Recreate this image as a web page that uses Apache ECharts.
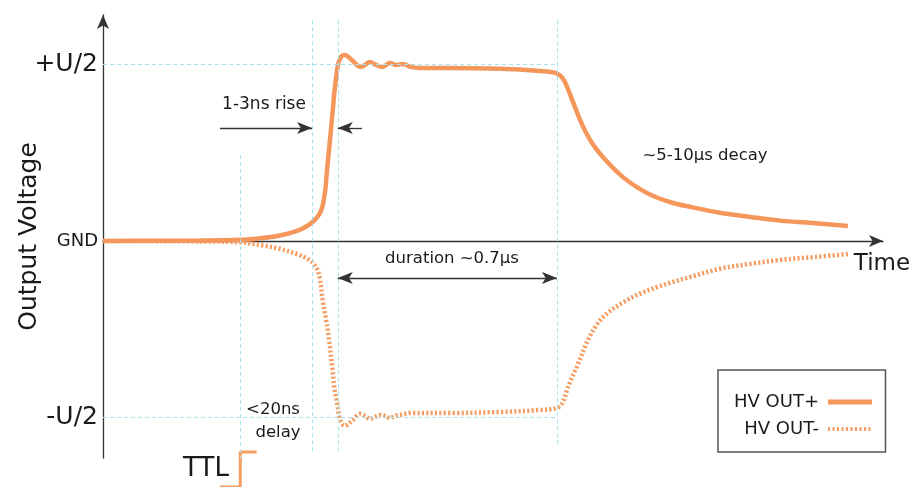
<!DOCTYPE html>
<html><head><meta charset="utf-8">
<script src="https://cdn.jsdelivr.net/npm/echarts@6/dist/echarts.min.js"></script>
<style>html,body{margin:0;padding:0;background:#fff}#c{width:917px;height:487px}</style>
</head><body><div id="c"></div>
<script>
// time in arbitrary (not-to-scale) units, voltage in units of U/2
const posT = [0, 12.4, 17.6, 20.5, 22.7, 24.9, 25.9, 26.8, 27.6, 28.1, 28.5, 28.7, 29.1, 29.4, 29.7, 30.1, 30.5, 31.0, 31.9, 33.0, 33.6, 34.2, 35.0, 35.8, 36.8, 37.6, 38.5, 39.4, 40.6, 44.5, 50.9, 56.0, 58.0, 58.9, 59.5, 60.3, 61.5, 62.8, 64.6, 66.7, 68.9, 71.0, 73.1, 75.3, 79.1, 83.0, 86.8, 91.3, 95.5];
const posV = [0, 0.002, 0.006, 0.017, 0.031, 0.057, 0.077, 0.104, 0.142, 0.190, 0.289, 0.391, 0.572, 0.714, 0.856, 0.992, 1.042, 1.054, 1.025, 0.986, 0.997, 1.014, 0.997, 0.986, 1.008, 0.997, 1.003, 0.986, 0.980, 0.980, 0.975, 0.963, 0.952, 0.924, 0.873, 0.782, 0.652, 0.548, 0.450, 0.360, 0.292, 0.246, 0.215, 0.193, 0.160, 0.136, 0.115, 0.100, 0.085];
const negT = [0, 12.4, 17.6, 20.5, 22.7, 24.9, 25.9, 26.8, 27.4, 27.8, 28.2, 28.6, 28.9, 29.4, 29.7, 30.0, 30.4, 31.0, 31.9, 33.0, 33.6, 34.2, 34.9, 35.5, 36.2, 36.8, 37.4, 38.1, 39.4, 44.5, 50.9, 56.0, 58.2, 58.9, 59.5, 60.1, 60.8, 62.1, 63.3, 64.6, 66.7, 68.9, 71.0, 73.1, 75.3, 79.1, 83.0, 86.8, 91.3, 95.5];
const negV = [0, -0.003, -0.008, -0.026, -0.045, -0.075, -0.094, -0.119, -0.155, -0.215, -0.346, -0.448, -0.533, -0.720, -0.844, -0.912, -1.014, -1.048, -1.020, -0.980, -0.992, -1.008, -0.997, -0.986, -0.992, -1.003, -0.992, -0.986, -0.975, -0.975, -0.969, -0.958, -0.946, -0.918, -0.844, -0.776, -0.708, -0.568, -0.475, -0.412, -0.348, -0.297, -0.262, -0.232, -0.204, -0.158, -0.130, -0.108, -0.091, -0.074];
const ttlT = [15.0, 17.6, 17.6, 19.7];
const ttlV = [0, 0, 1, 1];
const yTickValues = [-1, 0, 1];
const yTickLabels = ['-U/2', 'GND', '+U/2'];
const seriesNames = ['HV OUT+', 'HV OUT-'];
// reference marks (time positions)
const tDelay = 17.6, tRiseStart = 26.8, tRiseEnd = 30.1, tFallStart = 58.2;

const zip = (a, b) => a.map((v, i) => [v, b[i]]);
const FONT = 'DejaVu Sans';
const F = s => s + 'px "DejaVu Sans"';
const ORANGE = '#F5965A';
const ORANGE2 = '#F69E62';
const CYAN = '#A6E3EE';
const DARK = '#333333';
const TXT = '#1a1a1a';

const gridLine = (a, b) => [{ coord: a }, { coord: b }];

const chart = echarts.init(document.getElementById('c'), null, { renderer: 'canvas' });
chart.setOption({
  animation: false,
  backgroundColor: '#fff',
  textStyle: { fontFamily: FONT },
  grid: [
    { left: 103, right: 34, top: 15, bottom: 29, containLabel: false, outerBoundsMode: 'none' },
    { left: 103, right: 34, top: 452, height: 35, containLabel: false, outerBoundsMode: 'none' }
  ],
  xAxis: [
    { type: 'value', gridIndex: 0, min: 0, max: 100,
      axisLine: { show: true, onZero: true, symbol: ['none', 'arrow'], symbolSize: [9, 14], lineStyle: { color: DARK, width: 1.3 } },
      axisTick: { show: false }, axisLabel: { show: false }, splitLine: { show: false } },
    { type: 'value', gridIndex: 1, min: 0, max: 100, show: false }
  ],
  yAxis: [
    { type: 'value', gridIndex: 0, min: -1.23, max: 1.28,
      name: 'Output Voltage', nameLocation: 'middle', nameGap: 61, nameMoveOverlap: false,
      nameTextStyle: { fontSize: 25, color: TXT, fontFamily: FONT },
      axisLine: { show: true, onZero: false, symbol: ['none', 'arrow'], symbolSize: [9, 14], lineStyle: { color: DARK, width: 1.3 } },
      axisTick: { show: false }, splitLine: { show: false },
      axisLabel: {
        customValues: yTickValues, margin: 5, color: TXT,
        formatter: v => { const i = yTickValues.indexOf(v); if (i < 0) return ''; return v === 0 ? '{s|' + yTickLabels[i] + '}' : '{b|' + yTickLabels[i] + '}'; },
        rich: { s: { fontSize: 18, fontFamily: FONT, color: TXT }, b: { fontSize: 25, fontFamily: FONT, color: TXT } }
      } },
    { type: 'value', gridIndex: 1, min: 0, max: 1, show: false }
  ],
  legend: {
    orient: 'vertical', left: 718, top: 370, align: 'right',
    padding: [23, 11, 14, 16], itemGap: 9, itemWidth: 44, itemHeight: 14,
    borderColor: '#555', borderWidth: 1.5, backgroundColor: '#fff',
    textStyle: { fontSize: 18, color: TXT, fontFamily: FONT, padding: [0, 4, 0, 0] },
    data: [
      { name: seriesNames[0], itemStyle: { opacity: 0 }, lineStyle: { width: 5 } },
      { name: seriesNames[1], itemStyle: { opacity: 0 }, lineStyle: { width: 4, type: [2, 2.5] } }
    ],
    selectedMode: false
  },
  series: [
    { name: 'grid-ref', type: 'line', data: [], xAxisIndex: 0, yAxisIndex: 0, silent: true,
      markLine: { silent: true, symbol: ['none', 'none'], label: { show: false }, lineStyle: { type: [4, 3], color: CYAN, width: 1 },
        data: [
          gridLine([0, 1], [tFallStart, 1]),
          gridLine([0, -1], [tFallStart, -1]),
          gridLine([tDelay, 0.487], [tDelay, -1.23]),
          gridLine([tRiseStart, 1.25], [tRiseStart, -1.21]),
          gridLine([tRiseEnd, 1.25], [tRiseEnd, -1.21]),
          gridLine([tFallStart, 1.25], [tFallStart, -1.16])
        ] } },
    { name: seriesNames[1], type: 'line', data: zip(negT, negV), showSymbol: false, symbol: 'none', smooth: 0.35,
      lineStyle: { color: ORANGE2, width: 4.5, type: [2.2, 2.2] }, itemStyle: { color: ORANGE2 } },
    { name: seriesNames[0], type: 'line', data: zip(posT, posV), showSymbol: false, symbol: 'none', smooth: 0.35,
      lineStyle: { color: ORANGE, width: 4.5 }, itemStyle: { color: ORANGE } },
    { name: 'arrows', type: 'line', data: [], silent: true,
      markLine: { silent: true, label: { show: false }, symbolSize: [9, 15], lineStyle: { type: 'solid', color: DARK, width: 1.3 },
        data: [
          [{ coord: [15.0, 0.64], symbol: 'none' }, { coord: [tRiseStart, 0.64], symbol: 'arrow' }],
          [{ coord: [33.2, 0.64], symbol: 'none' }, { coord: [tRiseEnd, 0.64], symbol: 'arrow' }],
          [{ coord: [tRiseEnd, -0.21], symbol: 'arrow' }, { coord: [tFallStart, -0.21], symbol: 'arrow' }]
        ] } },
    { name: 'TTL', type: 'line', xAxisIndex: 1, yAxisIndex: 1, data: zip(ttlT, ttlV), showSymbol: false, symbol: 'none',
      lineStyle: { color: ORANGE2, width: 3 }, clip: false }
  ],
  graphic: [
    { type: 'text', style: { text: '1-3ns rise', x: 264, y: 105, align: 'center', verticalAlign: 'middle', font: F(17), fill: TXT } },
    { type: 'text', style: { text: 'duration ~0.7µs', x: 452, y: 259, align: 'center', verticalAlign: 'middle', font: F(16.5), fill: TXT } },
    { type: 'text', style: { text: '~5-10µs decay', x: 705, y: 156, align: 'center', verticalAlign: 'middle', font: F(16.5), fill: TXT } },
    { type: 'text', style: { text: '<20ns', x: 273, y: 410, align: 'center', verticalAlign: 'middle', font: F(16.5), fill: TXT } },
    { type: 'text', style: { text: 'delay', x: 278, y: 433, align: 'center', verticalAlign: 'middle', font: F(16.5), fill: TXT } },
    { type: 'text', style: { text: 'Time', x: 882, y: 264, align: 'center', verticalAlign: 'middle', font: F(23), fill: TXT } },
    { type: 'text', style: { text: 'TTL', x: 206, y: 469, align: 'center', verticalAlign: 'middle', font: F(26), fill: TXT } }
  ]
});
</script></body></html>
